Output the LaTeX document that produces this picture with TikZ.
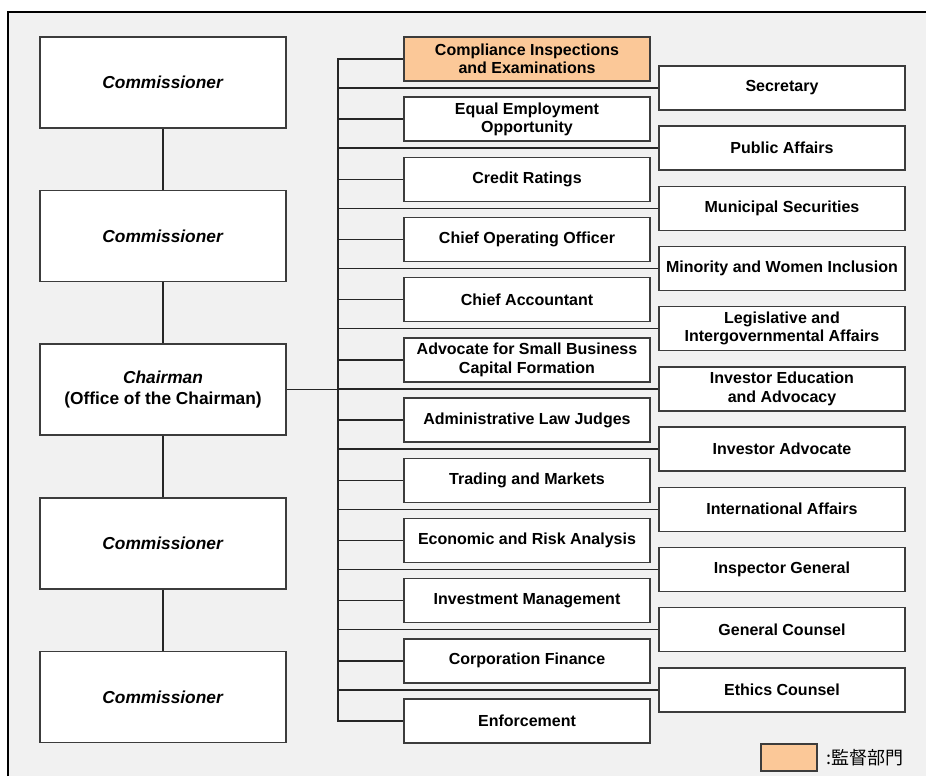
\documentclass[tikz,border=0pt]{standalone}
\usepackage{fontspec}
\setmainfont{Liberation Sans}
\newfontfamily\jpfont{Noto Sans CJK JP}
\usetikzlibrary{positioning,calc}
\definecolor{peach}{RGB}{251,200,152}
\definecolor{paper}{RGB}{241,241,241}
\definecolor{edge}{RGB}{60,60,60}

\begin{document}
\begin{tikzpicture}[x=0.75pt,y=-0.75pt,
    box/.style={draw=edge,fill=white,line width=1.1pt,inner sep=1pt,align=center,
      font=\fontsize{12}{13.75}\selectfont\bfseries},
    unit/.style={box,minimum width=184.5pt,minimum height=33pt},
    seat/.style={box,minimum width=184.5pt,minimum height=68.25pt,
      font=\fontsize{13}{15.5}\selectfont\bfseries},
    link/.style={draw=black!85,line width=1.15pt}]
  \useasboundingbox (0,0) rectangle (926,776);
  \fill[paper] (8,12) rectangle (926,776);
  \draw[line width=1.2pt] (8,776) -- (8,12) -- (926,12);

  % commissioners and chairman
  \foreach \t [count=\i from 0] in {
    \textit{Commissioner},
    \textit{Commissioner},
    {\textit{Chairman}\\(Office of the Chairman)},
    \textit{Commissioner},
    \textit{Commissioner}}
  {
    \pgfmathsetmacro{\y}{82.5+\i*153.6}
    \node[seat] (s\i) at (163,\y) {\t};
  }
  \foreach \i [evaluate=\i as \j using int(\i+1)] in {0,...,3}
    \draw[link] (s\i.south) -- (s\j.north);

  % offices, inner column
  \foreach \t/\c [count=\i from 0] in {
    Compliance Inspections\\and Examinations/peach,
    Equal Employment\\Opportunity/white,
    Credit Ratings/white,
    Chief Operating Officer/white,
    Chief Accountant/white,
    Advocate for Small Business\\Capital Formation/white,
    Administrative Law Judges/white,
    Trading and Markets/white,
    Economic and Risk Analysis/white,
    Investment Management/white,
    Corporation Finance/white,
    Enforcement/white}
  {
    \pgfmathsetmacro{\y}{59+\i*60.18}
    \node[unit,fill=\c] (m\i) at (527,\y) {\t};
  }

  % offices, outer column
  \foreach \t [count=\i from 0] in {
    Secretary,
    Public Affairs,
    Municipal Securities,
    Minority and Women Inclusion,
    Legislative and\\Intergovernmental Affairs,
    Investor Education\\and Advocacy,
    Investor Advocate,
    International Affairs,
    Inspector General,
    General Counsel,
    Ethics Counsel}
  {
    \pgfmathsetmacro{\y}{88+\i*60.18}
    \node[unit] (r\i) at (782,\y) {\t};
  }

  % trunk and branches
  \coordinate (trunk) at (338,0);
  \draw[link] (m0.west) -| (trunk |- m11.west) -- (m11.west);
  \foreach \i in {1,...,10}
    \draw[link] (m\i.west) -- (m\i.west -| trunk);
  \foreach \i in {0,...,10}
    \draw[link] (r\i.west) -- (r\i.west -| trunk);
  \draw[link] (s2.east) -- (s2.east -| trunk);

  % legend
  \node[draw=edge,fill=peach,line width=1.1pt,minimum width=42pt,minimum height=20.25pt,
    inner sep=0pt] (key) at (789,757.5) {};
  \node[right=5pt of key,inner sep=1pt,font=\jpfont\fontsize{13.5}{15}\selectfont] (keytext) {:監督部門};
\end{tikzpicture}
\end{document}
